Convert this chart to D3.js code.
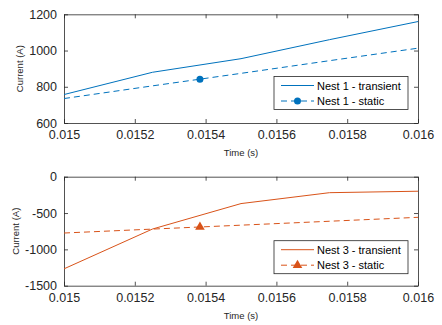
<!DOCTYPE html>
<html>
<head>
<meta charset="utf-8">
<script src="https://cdn.jsdelivr.net/npm/d3@7"></script>
<style>
  body { margin: 0; background: #fff; }
  svg { display: block; font-family: "Liberation Sans", Arial, sans-serif; }
</style>
</head>
<body>
<div id="chart"></div>
<script>
// tidspunkter (s)
const times = [0.015, 0.01525, 0.0155, 0.01575, 0.016];
const xTicks = [0.015, 0.0152, 0.0154, 0.0156, 0.0158, 0.016];
const markerTime = 0.015384;

// Nest 1
const nest1Transient = [757, 880, 955, 1060, 1160];
const nest1Static = [735, 805, 874, 944, 1013];
const nest1Marker = 842;
const yTicks1 = [600, 800, 1000, 1200];

// Nest 3
const nest3Transient = [-1268, -720, -370, -220, -200];
const nest3Static = [-775, -721, -667, -613, -559];
const nest3Marker = -692;
const yTicks3 = [-1500, -1000, -500, 0];

const W = 442, H = 325;
const svg = d3.select("#chart").append("svg")
  .attr("width", W).attr("height", H);

const x = d3.scaleLinear().domain([0.015, 0.016]).range([64, 418]);

function panel(opts) {
  const y = d3.scaleLinear().domain(opts.yDomain).range([opts.bottom, opts.top]);
  const g = svg.append("g");

  // akser med ticks innover (MATLAB-stil)
  const tl = 4;
  g.append("g").attr("transform", `translate(0,${opts.bottom})`)
    .call(d3.axisBottom(x).tickValues(xTicks).tickSizeInner(-tl).tickSizeOuter(0)
      .tickPadding(7).tickFormat(d => String(+d.toFixed(4))));
  g.append("g").attr("transform", `translate(0,${opts.top})`)
    .call(d3.axisTop(x).tickValues(xTicks).tickSizeInner(-tl).tickSizeOuter(0).tickFormat(""));
  g.append("g").attr("transform", "translate(64,0)")
    .call(d3.axisLeft(y).tickValues(opts.yTicks).tickSizeInner(-tl).tickSizeOuter(0)
      .tickPadding(7).tickFormat(d => String(d)));
  g.append("g").attr("transform", "translate(418,0)")
    .call(d3.axisRight(y).tickValues(opts.yTicks).tickSizeInner(-tl).tickSizeOuter(0).tickFormat(""));

  g.selectAll(".domain").attr("stroke", "#262626").attr("stroke-width", 0.8);
  g.selectAll(".tick line").attr("stroke", "#262626").attr("stroke-width", 0.8);
  g.selectAll(".tick text").attr("fill", "#262626").attr("font-size", "12.5px");

  // y-tittel
  g.append("text")
    .attr("transform", `translate(${opts.yLabelX},${(opts.top + opts.bottom) / 2}) rotate(-90)`)
    .attr("text-anchor", "middle").attr("font-size", "9.5px").attr("fill", "#262626")
    .text("Current (A)");
  // x-tittel
  g.append("text")
    .attr("x", (64 + 418) / 2).attr("y", opts.bottom + 33)
    .attr("text-anchor", "middle").attr("font-size", "9.5px").attr("fill", "#262626")
    .text("Time (s)");

  const line = d3.line().x(d => x(d[0])).y(d => y(d[1]));
  const plot = g.append("g");
  plot.append("path")
    .attr("d", line(times.map((t, i) => [t, opts.transient[i]])))
    .attr("fill", "none").attr("stroke", opts.color).attr("stroke-width", 1);
  plot.append("path")
    .attr("d", line(times.map((t, i) => [t, opts.stat[i]])))
    .attr("fill", "none").attr("stroke", opts.color).attr("stroke-width", 1)
    .attr("stroke-dasharray", "6,4");
  drawMarker(plot, opts.marker, x(markerTime), y(opts.markerVal), opts.color);

  // legende
  const lx = 274, lw = 134, lh = 33, ly = opts.legendY;
  const lg = g.append("g");
  lg.append("rect").attr("x", lx).attr("y", ly).attr("width", lw).attr("height", lh)
    .attr("fill", "#fff").attr("stroke", "#262626").attr("stroke-width", 0.8);
  const rows = [
    { label: opts.names[0], dash: null, marker: false },
    { label: opts.names[1], dash: "6,4", marker: true }
  ];
  rows.forEach((r, i) => {
    const cy = ly + 9 + i * 15.5;
    lg.append("line").attr("x1", lx + 7).attr("x2", lx + 40).attr("y1", cy).attr("y2", cy)
      .attr("stroke", opts.color).attr("stroke-width", 1)
      .attr("stroke-dasharray", r.dash);
    if (r.marker) drawMarker(lg, opts.marker, lx + 23.5, cy, opts.color);
    lg.append("text").attr("x", lx + 43).attr("y", cy + 4)
      .attr("font-size", "11px").attr("fill", "#000").text(r.label);
  });
}

function drawMarker(sel, type, cx, cy, color) {
  if (type === "circle") {
    sel.append("circle").attr("cx", cx).attr("cy", cy).attr("r", 3.5).attr("fill", color);
  } else {
    sel.append("path")
      .attr("d", d3.symbol().type(d3.symbolTriangle).size(40)())
      .attr("transform", `translate(${cx},${cy})`).attr("fill", color);
  }
}

panel({
  top: 14.3, bottom: 123, yDomain: [600, 1200], yTicks: yTicks1,
  transient: nest1Transient, stat: nest1Static, markerVal: nest1Marker,
  color: "#0072BD", marker: "circle", legendY: 76.5, yLabelX: 23,
  names: ["Nest 1 - transient", "Nest 1 - static"]
});

panel({
  top: 176.7, bottom: 285.7, yDomain: [-1500, 0], yTicks: yTicks3,
  transient: nest3Transient, stat: nest3Static, markerVal: nest3Marker,
  color: "#D95319", marker: "triangle", legendY: 240.7, yLabelX: 19,
  names: ["Nest 3 - transient", "Nest 3 - static"]
});
</script>
</body>
</html>
